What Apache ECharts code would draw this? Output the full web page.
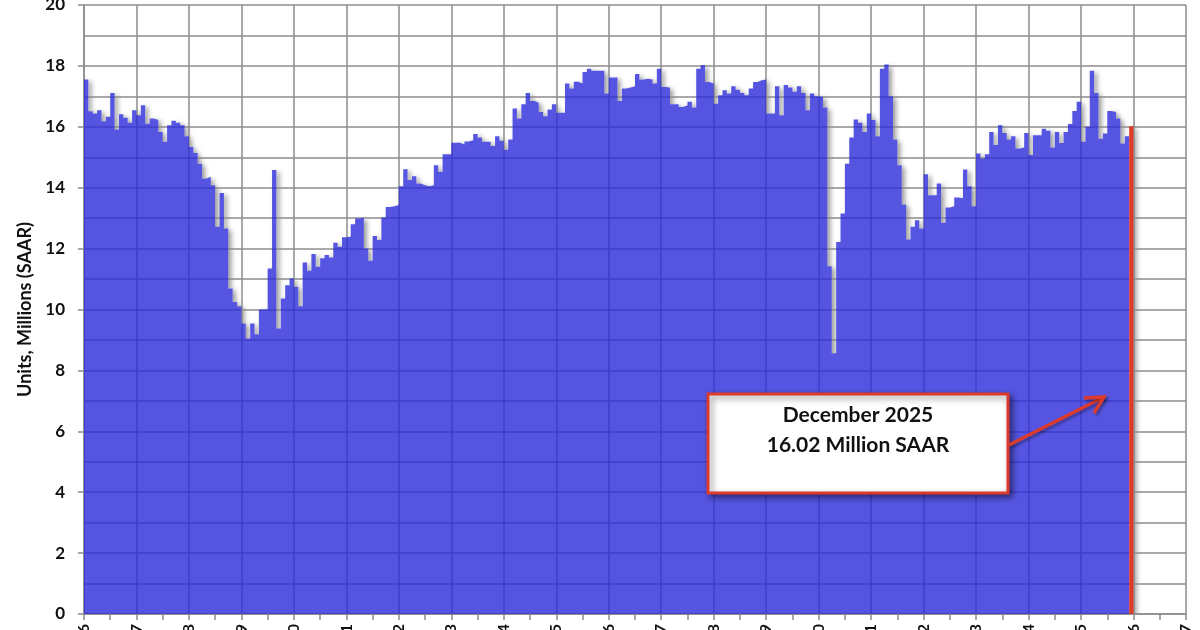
<!DOCTYPE html>
<html>
<head>
<meta charset="utf-8">
<title>Light Vehicle Sales SAAR</title>
<script src="https://cdn.jsdelivr.net/npm/echarts@6/dist/echarts.min.js"></script>
<style>
  html, body { margin: 0; padding: 0; background: #fff; }
  #chart { width: 1200px; height: 630px; }
</style>
</head>
<body>
<div id="chart"></div>
<script>
// monthly light vehicle sales, millions SAAR
var y2006 = [17.55, 16.51, 16.44, 16.54, 16.18, 16.33, 17.11, 15.91, 16.41, 16.30, 16.13, 16.54];
var y2007 = [16.38, 16.71, 16.10, 16.27, 16.22, 15.83, 15.51, 16.05, 16.20, 16.13, 16.05, 15.69];
var y2008 = [15.34, 15.14, 14.79, 14.30, 14.36, 14.08, 12.72, 13.83, 12.66, 10.69, 10.25, 10.11];
var y2009 = [9.54, 9.05, 9.54, 9.19, 10.00, 10.00, 11.35, 14.58, 9.38, 10.36, 10.80, 11.02];
var y2010 = [10.75, 10.11, 11.54, 11.27, 11.82, 11.40, 11.68, 11.79, 11.71, 12.19, 12.06, 12.37];
var y2011 = [12.39, 12.80, 12.99, 13.01, 12.00, 11.60, 12.41, 12.28, 13.02, 13.37, 13.39, 13.43];
var y2012 = [14.05, 14.61, 14.25, 14.38, 14.14, 14.08, 14.05, 14.08, 14.74, 14.52, 15.10, 15.10];
var y2013 = [15.48, 15.48, 15.42, 15.52, 15.56, 15.76, 15.65, 15.51, 15.51, 15.37, 15.69, 15.54];
var y2014 = [15.25, 15.58, 16.60, 16.27, 16.74, 17.11, 16.85, 16.79, 16.49, 16.35, 16.57, 16.74];
var y2015 = [16.46, 16.46, 17.42, 17.26, 17.48, 17.42, 17.80, 17.91, 17.84, 17.84, 17.84, 17.09];
var y2016 = [17.62, 17.62, 16.85, 17.26, 17.29, 17.33, 17.73, 17.55, 17.58, 17.55, 17.42, 17.91];
var y2017 = [17.31, 17.29, 16.74, 16.74, 16.65, 16.71, 16.82, 16.63, 17.91, 18.02, 17.47, 17.42];
var y2018 = [16.76, 17.04, 17.20, 17.09, 17.33, 17.22, 17.11, 17.04, 17.26, 17.47, 17.53, 17.55];
var y2019 = [16.44, 16.44, 17.33, 16.38, 17.37, 17.29, 17.15, 17.33, 17.11, 16.54, 17.09, 17.00];
var y2020 = [16.98, 16.63, 11.42, 8.56, 12.22, 13.15, 14.79, 15.65, 16.24, 16.13, 15.83, 16.44];
var y2021 = [16.22, 15.69, 17.91, 18.05, 17.00, 15.58, 14.74, 13.45, 12.30, 12.72, 12.93, 12.66];
var y2022 = [14.44, 13.75, 13.75, 14.14, 12.85, 13.35, 13.39, 13.68, 13.65, 14.60, 14.05, 13.39];
var y2023 = [15.12, 14.96, 15.10, 15.83, 15.40, 16.05, 15.80, 15.58, 15.69, 15.29, 15.32, 15.80];
var y2024 = [15.07, 15.72, 15.72, 15.94, 15.87, 15.32, 15.83, 15.47, 15.83, 16.09, 16.52, 16.82];
var y2025 = [15.51, 16.00, 17.84, 17.11, 15.61, 15.78, 16.52, 16.49, 16.27, 15.45, 15.69, 16.02];

// x tick labels, one per January (axis runs Jan-06 .. Jan-27)
var yearTicks = ['Jan-06', 'Jan-07', 'Jan-08', 'Jan-09', 'Jan-10', 'Jan-11', 'Jan-12', 'Jan-13',
  'Jan-14', 'Jan-15', 'Jan-16', 'Jan-17', 'Jan-18', 'Jan-19', 'Jan-20', 'Jan-21', 'Jan-22',
  'Jan-23', 'Jan-24', 'Jan-25', 'Jan-26', 'Jan-27'];

var sales = [].concat(y2006, y2007, y2008, y2009, y2010, y2011, y2012, y2013, y2014, y2015,
  y2016, y2017, y2018, y2019, y2020, y2021, y2022, y2023, y2024, y2025);

var fontFam = 'Lato, "Open Sans", sans-serif';
var gridGray = '#8c8c8c';
var red = '#dc3b2c';

// each month is a column from x=i to x=i+1 (x counted in months from Jan-06).
// drawn as one stepped area so neighbouring columns leave no seams
var last = sales.length - 1;
var bluePts = sales.map(function (v, i) { return [i, v]; });            // months 0..last-1
var redPts = [[last, sales[last]], [last + 1, sales[last]]];            // latest month
var allPts = bluePts.concat([[last + 1, sales[last]]]);                 // shadow caster

function stepArea(data, z, fill, extra) {
  var s = {
    type: 'line',
    step: 'end',
    z: z,
    data: data,
    symbol: 'none',
    silent: true,
    lineStyle: { width: 0, opacity: 0 },
    areaStyle: { color: fill, opacity: 1 }
  };
  if (extra) {
    for (var k in extra) s.areaStyle[k] = extra[k];
  }
  return s;
}

var chart = echarts.init(document.getElementById('chart'));
chart.setOption({
  backgroundColor: '#fff',
  animation: false,
  grid: { left: 84, right: 14, top: 5, bottom: 16, outerBoundsMode: 'none', containLabel: false },
  xAxis: {
    type: 'value',
    z: 2,
    min: 0,
    max: 252,
    interval: 12,
    axisLine: { show: true, lineStyle: { color: gridGray, width: 1.5 } },
    axisTick: { show: true, length: 6, lineStyle: { color: gridGray, width: 1.5 } },
    minorTick: { show: true, splitNumber: 2, length: 6, lineStyle: { color: gridGray, width: 1.5 } },
    splitLine: { show: true, lineStyle: { color: gridGray, width: 1.5 } },
    axisLabel: {
      rotate: 90,
      margin: 10,
      fontFamily: fontFam,
      fontWeight: 'bold',
      fontSize: 16,
      color: '#111',
      showMinLabel: true,
      showMaxLabel: true,
      hideOverlap: false,
      formatter: function (v) { return yearTicks[Math.round(v / 12)]; }
    }
  },
  yAxis: {
    type: 'value',
    z: 2,
    min: 0,
    max: 20,
    interval: 2,
    name: 'Units, Millions (SAAR)',
    nameLocation: 'middle',
    nameGap: 46,
    nameTextStyle: { fontFamily: fontFam, fontWeight: 'bold', fontSize: 18, color: '#111' },
    axisLine: { show: true, lineStyle: { color: gridGray, width: 1.5 } },
    axisTick: { show: true, length: 6, lineStyle: { color: gridGray, width: 1.5 } },
    minorTick: { show: false, splitNumber: 2 },
    splitLine: { show: true, lineStyle: { color: gridGray, width: 1.5 } },
    minorSplitLine: { show: true, lineStyle: { color: gridGray, width: 1.5 } },
    axisLabel: {
      margin: 19,
      fontFamily: fontFam,
      fontWeight: 'bold',
      fontSize: 17,
      color: '#111',
      showMinLabel: true,
      showMaxLabel: true
    }
  },
  series: [
    // white copy underneath only casts the soft drop shadow
    stepArea(allPts, 1, '#fff', {
      shadowColor: 'rgba(0,0,0,0.4)', shadowBlur: 5, shadowOffsetX: 3, shadowOffsetY: 2
    }),
    // translucent blue so the grid shows through as darker lines
    stepArea(bluePts, 3, 'rgba(42,42,217,0.8)'),
    stepArea(redPts, 3, red)
  ],
  graphic: {
    elements: [
      {
        type: 'rect',
        z: 100,
        shape: { x: 708, y: 394, width: 300, height: 99 },
        style: {
          fill: '#fff',
          stroke: red,
          lineWidth: 3,
          shadowBlur: 6,
          shadowOffsetX: 3,
          shadowOffsetY: 3,
          shadowColor: 'rgba(0,0,0,0.45)'
        }
      },
      {
        type: 'text',
        z: 101,
        x: 858,
        y: 415,
        style: {
          text: 'December 2025',
          font: 'bold 21px ' + fontFam,
          fill: '#111',
          align: 'center',
          verticalAlign: 'middle'
        }
      },
      {
        type: 'text',
        z: 101,
        x: 858,
        y: 445,
        style: {
          text: '16.02 Million SAAR',
          font: 'bold 21px ' + fontFam,
          fill: '#111',
          align: 'center',
          verticalAlign: 'middle'
        }
      },
      {
        type: 'polyline',
        z: 100,
        shape: { points: [[1009, 445], [1104, 397]] },
        style: { stroke: red, lineWidth: 3.5, shadowBlur: 3, shadowOffsetX: 2, shadowOffsetY: 2, shadowColor: 'rgba(0,0,0,0.35)' }
      },
      {
        type: 'polyline',
        z: 100,
        shape: { points: [[1084, 398], [1104, 397], [1094, 413]] },
        style: { stroke: red, lineWidth: 3.5, lineJoin: 'miter', shadowBlur: 3, shadowOffsetX: 2, shadowOffsetY: 2, shadowColor: 'rgba(0,0,0,0.35)' }
      }
    ]
  }
});
</script>
</body>
</html>
